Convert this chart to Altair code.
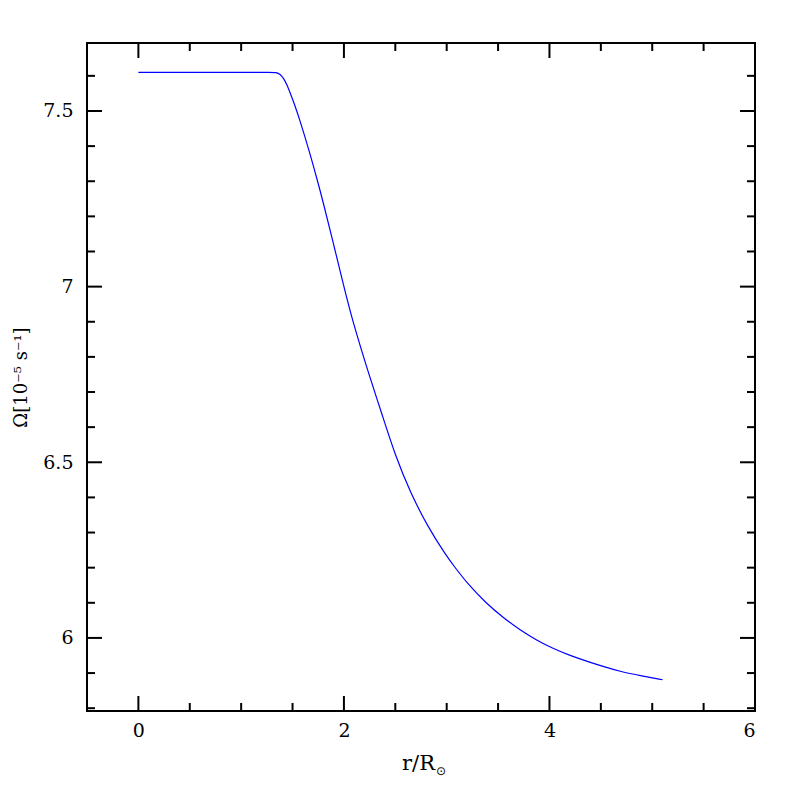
import altair as alt
import pandas as pd

# curve data
r_vals = [0.0, 0.5, 1.0, 1.30, 1.34, 1.38, 1.414, 1.45, 1.479, 1.52, 1.56, 1.66, 1.74, 1.79,
          1.90, 2.00, 2.08, 2.258, 2.355, 2.50, 2.647, 2.81, 3.00, 3.07, 3.20, 3.39, 3.55,
          3.72, 3.88, 4.04, 4.20, 4.37, 4.53, 4.69, 4.90, 5.10]
omega_vals = [7.61, 7.61, 7.61, 7.61, 7.61, 7.605, 7.593, 7.572, 7.550, 7.518, 7.484, 7.389,
              7.304, 7.250, 7.120, 7.00, 6.906, 6.736, 6.651, 6.518, 6.414, 6.319, 6.232,
              6.205, 6.155, 6.097, 6.058, 6.021, 5.993, 5.969, 5.950, 5.933, 5.918, 5.904,
              5.892, 5.881]

# axis ticks
x_major = [0, 2, 4, 6]
x_minor = [0.5, 1, 1.5, 2.5, 3, 3.5, 4.5, 5, 5.5]
y_major = [6.0, 6.5, 7.0, 7.5]
y_minor = [5.8, 5.9, 6.1, 6.2, 6.3, 6.4, 6.6, 6.7, 6.8, 6.9, 7.1, 7.2, 7.3, 7.4, 7.6]

# titles
x_title_main = ["r/R"]
x_title_sub = ["⊙"]
y_title = "Ω[10⁻⁵ s⁻¹]"

W, H = 668, 668
MAJ, MIN = 15, 8
FONT = "DejaVu Serif"

xs = alt.Scale(domain=[-0.5, 6], nice=False, zero=False)
ys = alt.Scale(domain=[5.792, 7.6935], nice=False, zero=False)

df = pd.DataFrame({"r": r_vals, "omega": omega_vals})

line = alt.Chart(df).mark_line(color="#0000ff", strokeWidth=1.2, interpolate="basis").encode(
    x=alt.X("r:Q", scale=xs,
            axis=alt.Axis(values=x_major, format="~g", ticks=False, domain=False, grid=False,
                          labelFont=FONT, labelFontSize=19, labelPadding=10, labelColor="black",
                          title=None)),
    y=alt.Y("omega:Q", scale=ys,
            axis=alt.Axis(values=y_major, format="~g", ticks=False, domain=False, grid=False,
                          labelFont=FONT, labelFontSize=19, labelPadding=14, labelColor="black",
                          title=y_title, titleFont=FONT, titleFontSize=18,
                          titleFontWeight="normal", titlePadding=12, titleColor="black")),
)

xt_main = alt.Chart(pd.DataFrame({"t": x_title_main})).mark_text(
    font=FONT, fontSize=21, align="right", baseline="alphabetic", color="black"
).encode(text="t:N", x=alt.value(348), y=alt.value(727))
xt_sub = alt.Chart(pd.DataFrame({"t": x_title_sub})).mark_text(
    font="DejaVu Sans", fontSize=12, align="left", baseline="middle", color="black"
).encode(text="t:N", x=alt.value(349), y=alt.value(728))

def xticks(vals, length):
    d = pd.DataFrame({"t": vals})
    bot = alt.Chart(d).mark_rule(color="black", strokeWidth=2).encode(
        x=alt.X("t:Q", scale=xs), y=alt.value(H), y2=alt.value(H - length))
    top = alt.Chart(d).mark_rule(color="black", strokeWidth=2).encode(
        x=alt.X("t:Q", scale=xs), y=alt.value(0), y2=alt.value(length))
    return [bot, top]

def yticks(vals, length):
    d = pd.DataFrame({"t": vals})
    left = alt.Chart(d).mark_rule(color="black", strokeWidth=2).encode(
        y=alt.Y("t:Q", scale=ys), x=alt.value(0), x2=alt.value(length))
    right = alt.Chart(d).mark_rule(color="black", strokeWidth=2).encode(
        y=alt.Y("t:Q", scale=ys), x=alt.value(W), x2=alt.value(W - length))
    return [left, right]

layers = ([line] + xticks(x_major, MAJ) + xticks(x_minor, MIN) + yticks(y_major, MAJ)
          + yticks(y_minor, MIN) + [xt_main, xt_sub])

chart = alt.layer(*layers).properties(
    width=W, height=H,
    background="white",
    autosize=alt.AutoSizeParams(type="none"),
    padding={"left": 79, "top": 35, "right": 30, "bottom": 70},
).configure_view(stroke="black", strokeWidth=2)

chart.save("out.html", embed_options={"renderer": "svg", "actions": False})
